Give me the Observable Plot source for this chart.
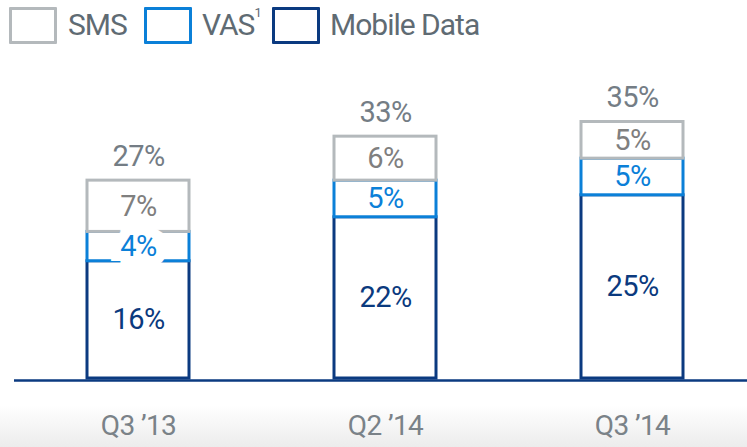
<!DOCTYPE html>
<html>
<head>
<meta charset="utf-8">
<script src="https://cdn.jsdelivr.net/npm/d3@7"></script>
<script src="https://cdn.jsdelivr.net/npm/@observablehq/plot@0.6"></script>
<style>
  html, body { margin: 0; padding: 0; width: 747px; height: 447px; overflow: hidden;
    background: linear-gradient(to bottom, #fff 0px, #fff 405px, #ececec 447px); font-family: Roboto, sans-serif; }
  #legend { position: relative; height: 50px; }
  .box { position: absolute; top: 7px; width: 42px; height: 31px; border: 3.5px solid; border-radius: 1px; background: #fff; }
  .lab { position: absolute; top: 5px; font-size: 30px; line-height: 40px; color: #5f6b73; letter-spacing: -1px; }
  .lab sup { font-size: 13px; position: relative; top: -2px; vertical-align: top; line-height: 20px; letter-spacing: 0; }
  #chart svg { display: block; }
</style>
</head>
<body>
<div id="legend"></div>
<div id="chart"></div>
<script>
const quarters = ["Q3 \u201913", "Q2 \u201914", "Q3 \u201914"];
const series = ["Mobile Data", "VAS", "SMS"];
const mobileData = [16, 22, 25];
const vas = [4, 5, 5];
const sms = [7, 6, 5];
const totals = [27, 33, 35];

const strokeColors = { "Mobile Data": "#0b3a80", "VAS": "#0b80d8", "SMS": "#b4b9bc" };
const textColors = { "Mobile Data": "#0b3a7e", "VAS": "#0b80d8", "SMS": "#7f7f7f" };

const values = { "Mobile Data": mobileData, "VAS": vas, "SMS": sms };
const rows = [];
quarters.forEach((q, i) => {
  series.forEach(s => rows.push({ quarter: q, series: s, value: values[s][i] }));
});
const totalRows = quarters.map((q, i) => ({ quarter: q, total: totals[i] }));

// Legend (HTML)
const legendItems = [
  { name: "SMS", sup: "", box: 9, text: 68 },
  { name: "VAS", sup: "1", box: 144, text: 202 },
  { name: "Mobile Data", sup: "", box: 272, text: 330 }
];
const legend = document.getElementById("legend");
legendItems.forEach(it => {
  const b = document.createElement("div");
  b.className = "box";
  b.style.left = it.box + "px";
  b.style.borderColor = strokeColors[it.name];
  legend.appendChild(b);
  const t = document.createElement("div");
  t.className = "lab";
  t.style.left = it.text + "px";
  t.innerHTML = it.name + (it.sup ? "<sup>" + it.sup + "</sup>" : "");
  legend.appendChild(t);
});

const stackOpts = { x: "quarter", y: "value", z: "series", order: series };

const chart = Plot.plot({
  width: 747,
  height: 397,
  marginLeft: 14,
  marginRight: 0,
  marginTop: 0,
  marginBottom: 69,
  style: { fontFamily: "Roboto, sans-serif", background: "transparent" },
  x: { domain: quarters, range: [13.6, 756.4], paddingInner: 0.588, paddingOuter: 0.294, axis: null },
  y: { domain: [0, 35], range: [328, 71.5], axis: null },
  marks: [
    Plot.rectY(rows, Plot.stackY({ ...stackOpts, fill: "white", stroke: d => strokeColors[d.series], strokeWidth: 3 })),
    Plot.ruleY([0], { stroke: "#0b3a80", strokeWidth: 2.5, dy: 2 }),
    // white knock-out behind the small VAS label, breaking the segment borders
    Plot.text(rows, Plot.stackY({ ...stackOpts, text: d => d.value + "%", fill: "white", stroke: "white",
      strokeOpacity: d => (d.series === "VAS" && d.value < 5 ? 1 : 0),
      fillOpacity: d => (d.series === "VAS" && d.value < 5 ? 1 : 0),
      strokeWidth: 20, strokeLinejoin: "miter", fontSize: 29, lineAnchor: "middle" })),
    Plot.text(rows, Plot.stackY({ ...stackOpts, text: d => d.value + "%", fill: d => textColors[d.series], fontSize: 29, lineAnchor: "middle" })),
    Plot.text(totalRows, { x: "quarter", y: "total", text: d => d.total + "%", dy: -24, fill: "#747d85", fontSize: 29, lineAnchor: "middle" }),
    Plot.axisX({ tickSize: 0, tickPadding: 37, fontSize: 28, color: "#7a8288", label: null })
  ]
});
chart.querySelectorAll("text").forEach(t => t.style.letterSpacing = "-0.6px");
document.getElementById("chart").appendChild(chart);
</script>
</body>
</html>
